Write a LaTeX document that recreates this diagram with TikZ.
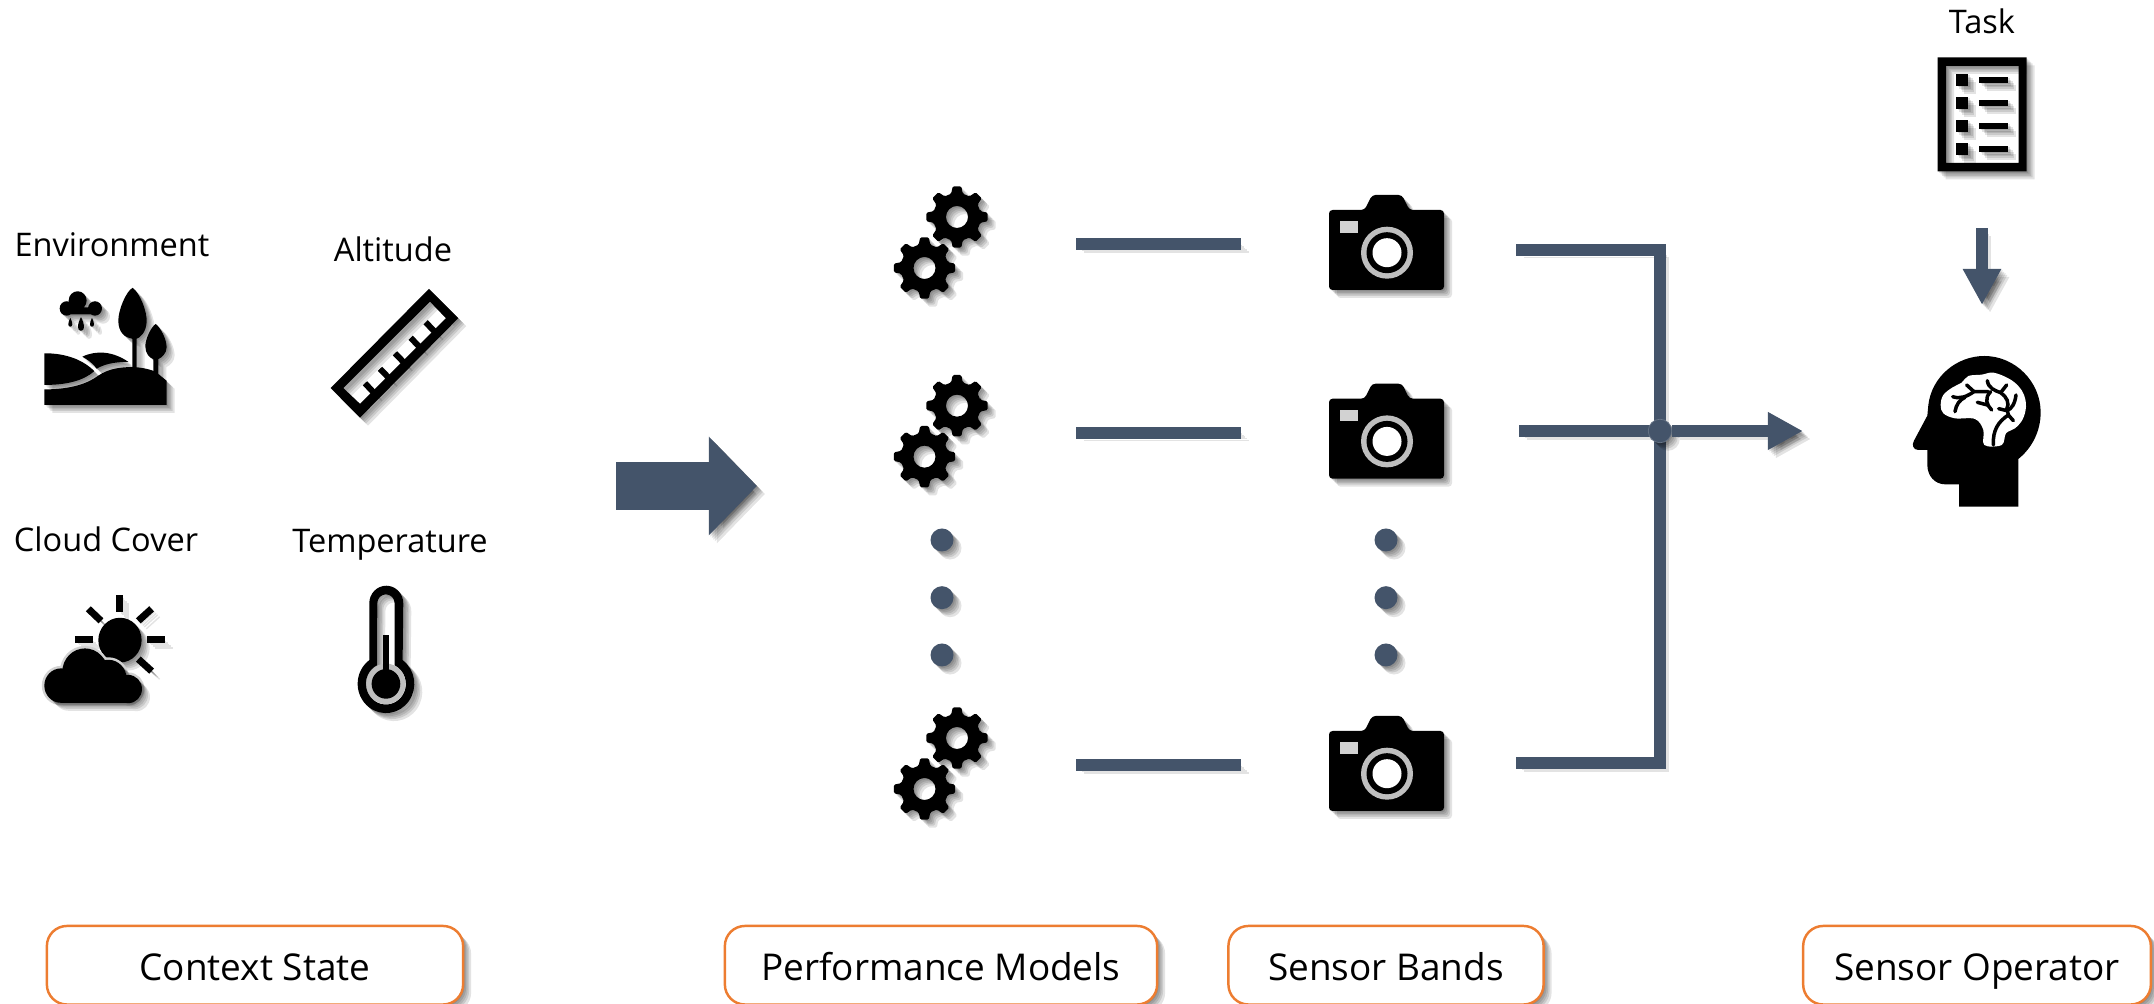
\documentclass[tikz,border=0pt]{standalone}
\usepackage{fontspec}
\setmainfont{Open Sans}
\usetikzlibrary{arrows.meta}

\definecolor{barblue}{HTML}{44546A}
\definecolor{boxorange}{HTML}{ED7D31}
\definecolor{lensgray}{HTML}{BFBFBF}

\tikzset{
    fillshade/.style={preaction={fill=black, fill opacity=0.11, transform canvas={shift={(#1,-#1)}}}},
    holeshade/.style={preaction={even odd rule, fill=black, fill opacity=0.11, transform canvas={shift={(#1,-#1)}}}},
    lineshade/.style={preaction={draw=black, opacity=0.11, transform canvas={shift={(#1,-#1)}}}},
    softfill/.style={fillshade=0.015cm, fillshade=0.03cm, fillshade=0.045cm, fillshade=0.06cm, fillshade=0.08cm},
    softhole/.style={holeshade=0.015cm, holeshade=0.03cm, holeshade=0.045cm, holeshade=0.06cm, holeshade=0.08cm},
    softline/.style={lineshade=0.015cm, lineshade=0.03cm, lineshade=0.045cm, lineshade=0.06cm, lineshade=0.08cm},
    conn/.style={draw=barblue, line width=0.12cm, softline},
    link/.style={conn, shorten <=0.875cm, shorten >=0.885cm},
    iconbox/.style={inner sep=0pt, outer sep=0pt, minimum width=#1, minimum height=#1},
    dotnode/.style={shape=circle, fill=barblue, minimum size=0.23cm, inner sep=0pt, softfill},
    hint/.style={font=\fontsize{9.25}{11}\selectfont, anchor=base, inner sep=0pt},
    stagebox/.style={draw=boxorange, line width=0.7pt, fill=white, rounded corners=0.2cm, softfill,
        font=\fontsize{10.5}{13}\selectfont, anchor=base, inner xsep=0pt, inner ysep=0pt,
        text height=0.55cm, text depth=0.235cm, align=center, minimum width=#1},
    iconzoom/.style={xscale=0.3333, yscale=0.3444},
    cog/.pic={
        \fill[black, softhole, even odd rule, rounded corners=0.4pt] (-14:24)
            \foreach \a in {0,45,...,315} { -- (\a-14:24) -- (\a-8:31) -- (\a+8:31) -- (\a+14:24) }
            -- cycle (0,0) circle (11);
    },
    gearpair/.pic={
        \pic at (16,-27) {cog};
        \pic at (-16.5,24) {cog};
    },
    camera/.pic={
        \fill[black, softfill, rounded corners=1pt] (-58,-34) -- (-22.4,-34) -- (-15,-49) -- (15,-49)
            -- (22.4,-34) -- (57,-34) -- (57,46) -- (-58,46) -- cycle;
        \fill[lensgray] (0,8.7) circle (26);
        \fill[black] (0,8.7) circle (20.5);
        \fill[white] (0,8.7) circle (14.5);
        \fill[lensgray!70] (-47,-23) rectangle (-29,-11.3);
    },
}

\begin{document}
\begin{tikzpicture}[x=0.01cm, y=-0.01cm]
    \useasboundingbox (0,0) rectangle (2154,1004);

    % context state icons
    \begin{scope}[shift={(0,200)}, iconzoom]
        % environment
        \fill[black, softfill] (200,315) circle (21) (233,292) circle (27) (285,315) circle (21) (190,332) rectangle (290,312);
        \fill[black, softfill] (211,342) .. controls (203,358) and (203,368) .. (211,368) .. controls (219,368) and (219,358) .. (211,342) -- cycle;
        \fill[black, softfill] (243,340) .. controls (231,362) and (231,380) .. (243,380) .. controls (255,380) and (255,362) .. (243,340) -- cycle;
        \fill[black, softfill] (276,342) .. controls (268,358) and (268,368) .. (276,368) .. controls (284,368) and (284,358) .. (276,342) -- cycle;
        \fill[black, softfill] (398,255) .. controls (420,270) and (442,325) .. (440,355) .. controls (438,385) and (420,400) .. (410,403)
            -- (410,490) -- (397,490) -- (397,403) .. controls (375,400) and (355,385) .. (355,350) .. controls (355,320) and (378,265) .. (398,255) -- cycle;
        \fill[black, softfill] (467,360) .. controls (482,370) and (500,405) .. (500,428) .. controls (500,445) and (485,458) .. (475,462)
            -- (475,505) -- (460,505) -- (460,462) .. controls (448,458) and (436,445) .. (436,425) .. controls (436,405) and (452,370) .. (467,360) -- cycle;
        \fill[black, softfill] (133,445) .. controls (200,445) and (250,465) .. (283,497) .. controls (250,525) and (200,537) .. (133,537) -- cycle;
        \fill[black, softfill] (247,455) .. controls (290,435) and (340,440) .. (385,470) .. controls (340,470) and (310,478) .. (290,490) .. controls (280,475) and (265,465) .. (247,455) -- cycle;
        \fill[black, softfill] (133,550) .. controls (215,550) and (265,532) .. (295,510) .. controls (325,490) and (360,485) .. (400,485)
            .. controls (435,487) and (465,495) .. (475,505) -- (500,525) -- (500,595) -- (133,595) -- cycle;
        % altitude
        \fill[black, softhole, even odd rule] (1287,258) -- (1375,343) -- (1080,632) -- (992,546) -- cycle
            (1290,295) -- (1338,343) -- (1080,592) -- (1030,546) -- cycle;
        \draw[black, line width=0.06cm, softline] (1095,532) -- (1122,560);
        \draw[black, line width=0.06cm, softline] (1140,490) -- (1168,518);
        \draw[black, line width=0.06cm, softline] (1185,445) -- (1213,473);
        \draw[black, line width=0.06cm, softline] (1232,400) -- (1260,428);
        \draw[black, line width=0.06cm, softline] (1277,355) -- (1305,383);
        % cloud cover
        \draw[black, line width=0.07cm, softline] (360,1147) -- (360,1197);
        \draw[black, line width=0.07cm, softline] (265,1187) -- (303,1222);
        \draw[black, line width=0.07cm, softline] (455,1187) -- (415,1222);
        \draw[black, line width=0.07cm, softline] (225,1277) -- (278,1277);
        \draw[black, line width=0.07cm, softline] (441,1277) -- (495,1277);
        \draw[black, line width=0.07cm, softline] (415,1333) -- (455,1368);
        \fill[black, softfill] (360,1278) circle (65);
        \fill[black, preaction={draw=gray!35, line width=0.05cm}, softfill] (183,1410) circle (50) (255,1370) circle (68) (325,1390) circle (55)
            (385,1420) circle (41) (183,1460) rectangle (385,1400);
        % temperature
        \fill[black, softhole, even odd rule] (1108,1171) arc (180:360:51) -- (1208,1336) arc (-54:234:85) -- cycle
            (1184,1171) -- (1184,1351) arc (-64:244:60) -- (1132,1171) arc (180:360:26) -- cycle;
        \fill[lensgray] (1158,1405) circle (59);
        \fill[black] (1158,1405) circle (43);
        \fill[black] (1149,1263) rectangle (1167,1380);
    \end{scope}

    \node[hint] (envlabel) at (112,256.8) {Environment};
    \node[hint] (altlabel) at (393,262) {Altitude};
    \node[hint] (cloudlabel) at (106,552) {Cloud Cover};
    \node[hint] (templabel) at (390,553) {Temperature};

    \coordinate (ctxout) at (616,486);
    \coordinate (ctxtip) at (757,486);
    \draw[conn, line width=0.48cm, -{Triangle[length=0.48cm, width=0.956cm]}] (ctxout) -- (ctxtip);

    % performance models and sensor bands
    \node[iconbox=0.95cm] (model1) at (941,244) {};
    \node[iconbox=0.95cm] (model2) at (941,432.7) {};
    \node[iconbox=0.95cm] (model3) at (941,765) {};
    \node[iconbox=1.15cm] (band1) at (1387,244) {};
    \node[iconbox=1.15cm] (band2) at (1387,432.7) {};
    \node[iconbox=1.15cm] (band3) at (1387,765) {};

    \pic at (model1) {gearpair};
    \pic at (model2) {gearpair};
    \pic at (model3) {gearpair};
    \pic at (band1) {camera};
    \pic at (band2) {camera};
    \pic at (band3) {camera};

    \node[dotnode] (gap1) at (942,540) {};
    \node[dotnode] (gap2) at (942,597.7) {};
    \node[dotnode] (gap3) at (942,655) {};
    \node[dotnode] (gap4) at (1386,540) {};
    \node[dotnode] (gap5) at (1386,597.7) {};
    \node[dotnode] (gap6) at (1386,655) {};

    \draw[link] (model1) -- (band1);
    \draw[link] (model2) -- (band2);
    \draw[link] (model3) -- (band3);

    % bus into the operator
    \coordinate (tap1) at (1516,249.6);
    \coordinate (tap2) at (1519,431);
    \coordinate (tap3) at (1516,763);
    \coordinate (bus1) at (1660,249.6);
    \coordinate (bus3) at (1660,763);
    \node[iconbox=1.4cm, minimum height=1.51cm] (operator) at (1982,431) {};
    \node[iconbox=0.89cm, minimum height=1.14cm] (task) at (1982,114.5) {};

    \draw[conn] (tap1) -- (bus1) -- (bus3) -- (tap3);
    \draw[conn] (tap2) -- (1660,431);
    \node[dotnode, minimum size=0.235cm, draw=barblue!80, line width=0.2pt] (joint) at (1660,431) {};
    \draw[conn, shorten >=1.09cm, -{Triangle[length=0.35cm, width=0.354cm]}] (joint) -- (operator);
    \draw[conn, shorten <=0.565cm, shorten >=0.505cm, -{Triangle[length=0.36cm, width=0.36cm]}] (task) -- (operator);

    % task sheet
    \node[hint] (tasklabel) at (1982,33.7) {Task};
    \fill[black, softhole, even odd rule] (1937.7,57.5) rectangle (2026.7,171.5) (1946,66) rectangle (2018.5,163);
    \fill[black, softfill] (1956,74) rectangle (1968,86);
    \fill[black, softfill] (1956,97) rectangle (1968,109);
    \fill[black, softfill] (1956,120) rectangle (1968,132);
    \fill[black, softfill] (1956,143) rectangle (1968,155);
    \fill[black, softfill] (1979,77) rectangle (2008,83);
    \fill[black, softfill] (1979,100) rectangle (2008,106);
    \fill[black, softfill] (1979,123) rectangle (2008,129);
    \fill[black, softfill] (1979,146) rectangle (2008,152);

    % operator head
    \begin{scope}[shift={(1900,350)}, scale=0.3333]
        \fill[black] (85,165) .. controls (95,80) and (170,18) .. (253,18) .. controls (345,18) and (422,95) .. (422,187)
            .. controls (422,245) and (395,295) .. (355,327) -- (355,470) -- (177,470) -- (177,403) -- (135,403)
            .. controls (105,403) and (82,378) .. (82,345) -- (82,300) -- (55,300) .. controls (40,300) and (34,285) .. (42,272) -- (82,197) -- cycle;
        \fill[white] plot[smooth cycle, tension=0.6] coordinates {(122,165) (130,135) (158,112) (185,98) (205,78) (245,74) (280,68) (325,85) (355,108) (372,135) (378,170) (368,208) (345,235) (318,250) (305,285) (253,285) (250,240) (225,207) (165,205) (130,190)};
        \fill[white] (253,240) rectangle (305,285);
        \draw[black, line width=1pt, line cap=round] (158,140) .. controls (180,148) and (200,140) .. (222,125) -- (265,125);
        \draw[black, line width=1pt, line cap=round] (200,105) -- (222,125);
        \draw[black, line width=1pt, line cap=round] (165,185) .. controls (168,165) and (178,150) .. (195,142);
        \draw[black, line width=1pt, line cap=round] (262,92) .. controls (265,115) and (285,122) .. (302,128) .. controls (320,140) and (330,160) .. (320,178);
        \draw[black, line width=1pt, line cap=round] (302,128) -- (320,105);
        \draw[black, line width=1pt, line cap=round] (272,125) .. controls (252,145) and (260,165) .. (275,180);
        \draw[black, line width=1pt, line cap=round] (232,157) -- (262,165);
        \draw[black, line width=1pt, line cap=round] (348,135) .. controls (345,160) and (335,178) .. (320,182) -- (296,176);
        \draw[black, line width=1pt, line cap=round] (280,285) .. controls (278,240) and (295,215) .. (325,195) -- (340,212);
        \draw[black, line width=1pt, line cap=round] (325,195) -- (322,180);
    \end{scope}

    % stage labels
    \node[stagebox=4.16cm] (stage1) at (255,981) {Context State};
    \node[stagebox=4.32cm] (stage2) at (941,981) {Performance Models};
    \node[stagebox=3.15cm] (stage3) at (1386,981) {Sensor Bands};
    \node[stagebox=3.475cm] (stage4) at (1977,981) {Sensor Operator};
\end{tikzpicture}
\end{document}
